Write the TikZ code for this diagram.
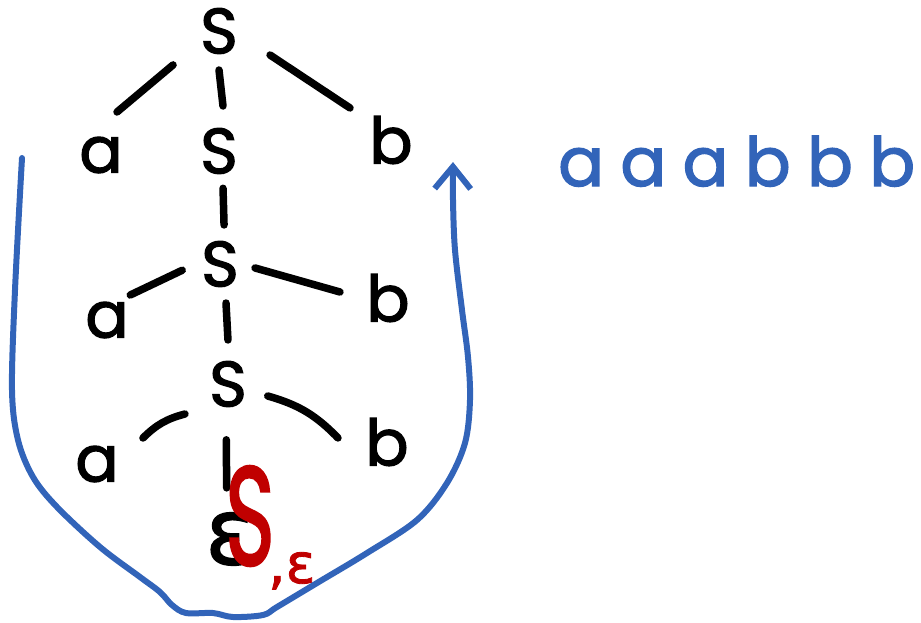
\documentclass[tikz,border=0pt]{standalone}
\usepackage{fontspec}
\setmainfont{Poppins}
\newfontfamily\hand[FakeBold=2]{Poppins}
\newfontfamily\dv[FakeBold=1.5]{DejaVu Sans}
\usetikzlibrary{calc,arrows.meta}
\definecolor{inkblue}{RGB}{50,100,185}
\definecolor{inkred}{RGB}{192,0,0}
\begin{document}
\begin{tikzpicture}[x=1pt,y=-1pt,
  sym/.style={inner sep=0pt, font=\hand\fontsize{64}{70}\selectfont},
  edge/.style={line width=7.5pt, line cap=round},
  bluestroke/.style={draw=inkblue, line width=6pt, line cap=round, line join=round}]
\useasboundingbox (0,0) rectangle (921,622);
% tree nodes
\node[sym] (S0) at (219,31) {S};
\node[sym] (S1) at (219,151) {S};
\node[sym] (a1) at (101,155) {a};
\node[sym] (b1) at (391,140) {b};
\node[sym] (S2) at (220,264) {S};
\node[sym] (a2) at (107,320) {a};
\node[sym] (b2) at (388,298) {b};
\node[sym] (S3) at (228,384) {S};
\node[sym] (a3) at (97,464) {a};
\node[sym] (b3) at (387,442) {b};
\node[inner sep=0pt, font=\dv\fontsize{92}{96}\selectfont] (e) at (230,539) {ε};
% edges
\draw[edge] ($(S0)!0.33!(a1)+(-7,-7)$) -- ($(S0)!0.75!(a1)+(-13.5,-12)$);
\draw[edge] ($(S0)!0.325!(S1)$) -- ($(S0)!0.625!(S1)+(4,0)$);
\draw[edge] ($(S0)!0.27!(b1)+(4.6,-5.4)$) -- ($(S0)!0.74!(b1)+(3.7,-3.7)$);
\draw[edge] ($(S1)!0.33!(S2)+(3.7,0)$) -- ($(S1)!0.65!(S2)+(4.4,0.5)$);
\draw[edge] ($(S2)!0.29!(a2)+(-5,-10)$) -- ($(S2)!0.75!(a2)+(-5,-11)$);
\draw[edge] ($(S2)!0.205!(b2)+(0.6,-3)$) -- ($(S2)!0.72!(b2)+(-1,3.5)$);
\draw[edge] ($(S2)!0.325!(S3)+(3.4,0)$) -- ($(S2)!0.633!(S3)+(2.9,0)$);
\draw[edge] ($(S3)!0.34!(a3)+(1.5,2.8)$) to[bend right=15] ($(S3)!0.656!(a3)+(0.9,1.5)$);
\draw[edge] ($(S3)!0.25!(b3)+(0,-2.5)$) to[bend left=15] ($(S3)!0.72!(b3)+(-4.5,12.2)$);
\draw[edge] ($(S3)!0.36!(e)+(-2.4,0)$) -- ($(S3)!0.67!(e)+(-2.7,0)$);
% red annotation
\node[inner sep=0pt, text=inkred, font=\hand\fontsize{140}{150}\selectfont, xscale=0.6] (rS) at (250,516) {S};
\node[inner sep=0pt, anchor=base west, text=inkred, font=\dv\fontsize{55}{60}\selectfont] (rE) at (268,583) {,ε};
% blue word
\node[inner sep=0pt, anchor=base west, text=inkblue, font=\hand\fontsize{68}{72}\selectfont] (word) at (558,186) {\makebox[357pt][s]{a\hfill a\hfill a\hfill b\hfill b\hfill b}};
% blue arrow
\coordinate (L) at (22,158);
\coordinate (T) at (453,162);
\draw[bluestroke, -{Straight Barb[length=22pt,width=36pt]}] plot[smooth, tension=0.55] coordinates {(L) (15,290) (12,390) (18,440) (33,477) (57,507) (100,547) (140,577) (160,592) (172,605) (186,613) (213,613) (233,617) (263,615) (277,607) (317,583) (367,553) (417,520) (447,483) (465,443) (470,400) (468,357) (462,310) (455,250) (453,200) (T)};
\end{tikzpicture}
\end{document}
